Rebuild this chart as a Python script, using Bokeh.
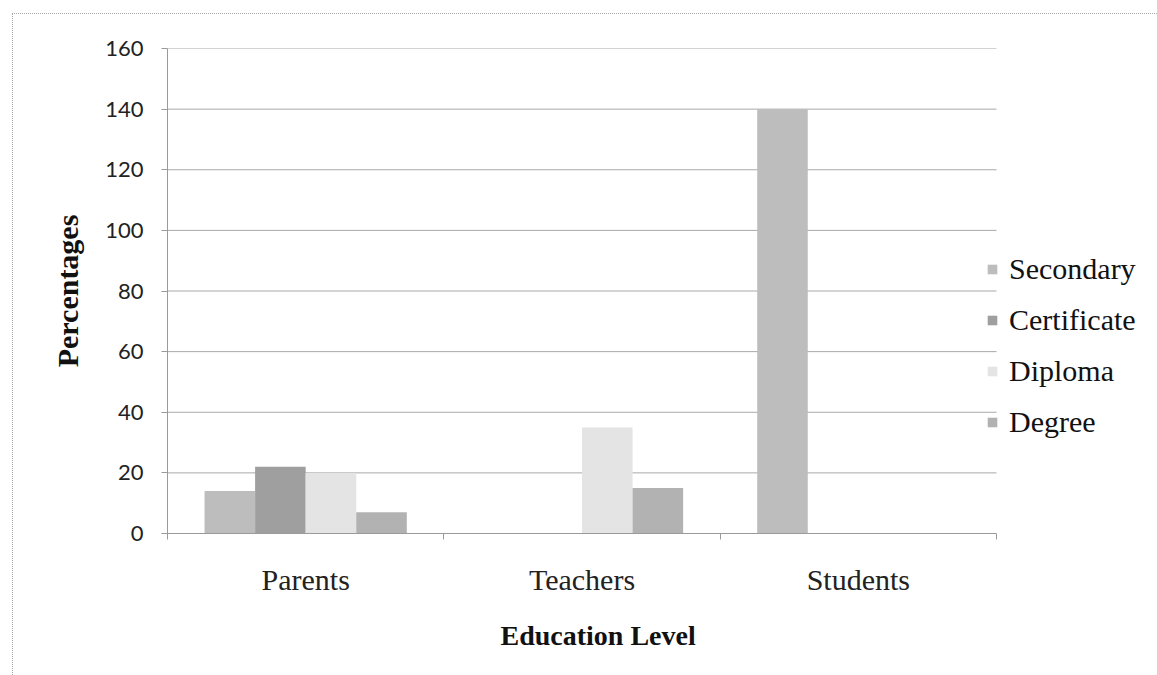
from bokeh.plotting import figure
from bokeh.models import (Range1d, FixedTicker, ColumnDataSource, Legend, LegendItem, Title)
from bokeh.transform import dodge
from bokeh.embed import file_html
from bokeh.resources import INLINE

# Survey data: share of each education level per respondent group
groups = ["Parents", "Teachers", "Students"]
series = ["Secondary", "Certificate", "Diploma", "Degree"]
secondary = [14, 0, 140]
certificate = [22, 0, 0]
diploma = [20, 35, 0]
degree = [7, 15, 0]
y_ticks = [0, 20, 40, 60, 80, 100, 120, 140, 160]

colors = ["#bdbdbd", "#9f9f9f", "#e4e4e4", "#b2b2b2"]
n = len(groups)
centers = [i + 0.5 for i in range(n)]

src = ColumnDataSource(dict(x=centers, Secondary=secondary, Certificate=certificate,
                            Diploma=diploma, Degree=degree))

# the frame runs to the right edge so the legend beside the bars is not clipped;
# the category area itself covers x = 0..n
left_border, plot_w = 154, 1145
cat_px = 829
x_end = n * (plot_w - left_border) / cat_px

p = figure(width=plot_w, height=662, x_range=Range1d(0, x_end), y_range=Range1d(0, 160),
           output_backend="svg", toolbar_location=None,
           min_border_left=left_border, min_border_right=0, min_border_top=34,
           min_border_bottom=143)
p.margin = (13, 0, 0, 12)
p.styles = {"border-left": "1px dotted #aaaaaa", "border-top": "1px dotted #aaaaaa",
            "box-sizing": "border-box"}

p.outline_line_color = None
p.background_fill_color = "white"
p.border_fill_color = "white"

# horizontal grid lines limited to the category area
p.xgrid.grid_line_color = None
p.ygrid.grid_line_color = None
grid_src = ColumnDataSource(dict(y=y_ticks[1:], x0=[0] * (len(y_ticks) - 1),
                                 x1=[n] * (len(y_ticks) - 1)))
p.segment(x0="x0", y0="y", x1="x1", y1="y", source=grid_src,
          line_color="#a8a8a8", line_width=1)

bw = 0.183
offsets = [-1.5 * bw, -0.5 * bw, 0.5 * bw, 1.5 * bw]
renderers = []
for name, off, col in zip(series, offsets, colors):
    r = p.vbar(x=dodge("x", off, range=p.x_range), top=name, width=bw, source=src,
               fill_color=col, line_color=None)
    renderers.append(r)

# y axis
yax = p.yaxis[0]
yax.ticker = FixedTicker(ticks=y_ticks)
yax.axis_line_color = "#9a9a9a"
yax.major_tick_line_color = "#9a9a9a"
yax.major_tick_out = 6
yax.major_tick_in = 0
yax.minor_tick_line_color = None
yax.major_label_standoff = 18
yax.major_label_text_font = "Lato"
yax.major_label_text_font_size = "22px"
yax.major_label_text_color = "#222222"
yax.axis_label = "Percentages"
yax.axis_label_text_font = "Liberation Serif"
yax.axis_label_text_font_style = "bold"
yax.axis_label_text_font_size = "30px"
yax.axis_label_text_color = "#111111"
yax.axis_label_standoff = 18

# x axis: labels centred on groups, tick marks on group boundaries
xax = p.xaxis[0]
xax.bounds = (0, n)
xax.ticker = FixedTicker(ticks=centers, minor_ticks=list(range(n + 1)))
xax.major_label_overrides = {c: g for c, g in zip(centers, groups)}
xax.major_tick_line_color = None
xax.minor_tick_line_color = "#9a9a9a"
xax.minor_tick_out = 6
xax.minor_tick_in = 0
xax.axis_line_color = "#9a9a9a"
xax.major_label_standoff = 23
xax.major_label_text_font = "Liberation Serif"
xax.major_label_text_font_size = "30px"
xax.major_label_text_color = "#222222"

# x axis title, centred under the category area rather than the whole frame
xtitle = Title(text="Education Level", align="left", offset=333, standoff=39,
               text_font="Liberation Serif", text_font_style="bold",
               text_font_size="28px", text_color="#111111")
p.add_layout(xtitle, "below")

legend = Legend(items=[LegendItem(label=s, renderers=[r]) for s, r in zip(series, renderers)],
                location=(819, 94))
legend.border_line_color = None
legend.background_fill_alpha = 0
legend.padding = 0
legend.margin = 0
legend.glyph_width = 12
legend.glyph_height = 12
legend.label_text_font = "Liberation Serif"
legend.label_text_font_size = "30px"
legend.label_text_color = "#111111"
legend.label_standoff = 11
legend.spacing = 17
p.add_layout(legend, "center")

open("out.html", "w").write(file_html(p, INLINE))
